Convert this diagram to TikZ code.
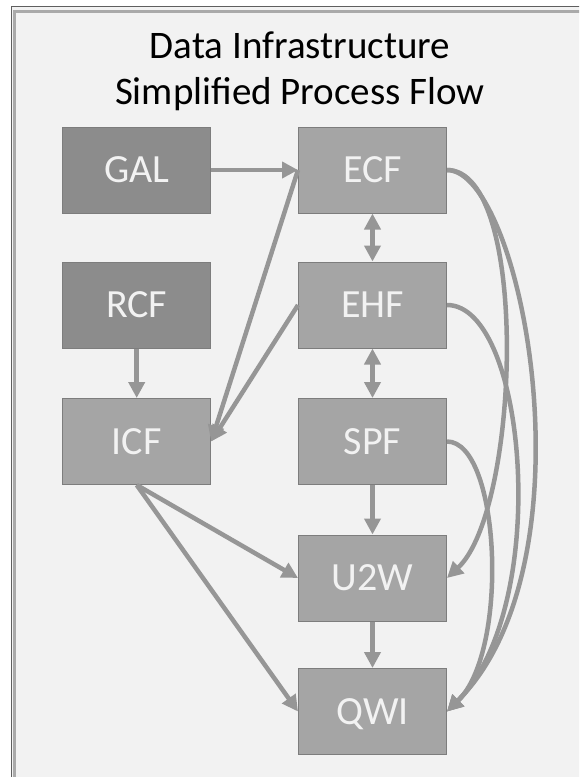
\documentclass[tikz,border=0pt]{standalone}
\usepackage{fontspec}
\setmainfont{Carlito}
\usetikzlibrary{arrows.meta, positioning, calc}
\definecolor{panel}{RGB}{242,242,242}
\definecolor{boxdark}{RGB}{140,140,140}
\definecolor{boxlite}{RGB}{165,165,165}
\definecolor{edge}{RGB}{125,125,125}
\definecolor{link}{RGB}{150,150,150}
\definecolor{rim}{RGB}{95,95,95}
\definecolor{rimlite}{RGB}{170,170,170}

\begin{document}
\begin{tikzpicture}[x=1pt,y=-1pt,
  D/.style={draw=edge,line width=1pt,fill=boxdark,
            minimum width=148pt,minimum height=86pt,inner sep=0pt,
            font=\fontsize{40}{44}\selectfont,text=panel,
            text height=25.3pt,text depth=0pt},
  L/.style={D,fill=boxlite},
  ar/.style={-{Triangle[length=16pt,width=16pt]},link,line width=4.5pt},
  dar/.style={{Triangle[length=16pt,width=16pt]}-{Triangle[length=16pt,width=16pt]},
              link,line width=4.5pt},
  >=Stealth
]

%% col-x:  136.7 | 372.5
%% row-y:  170 | 305 | 441.5 | 578 | 711.5

\useasboundingbox (0,0) rectangle (579,777);
\clip (0,0) rectangle (579,777);

% frame
\fill[white] (0,0) rectangle (579,777);
\fill[panel] (11,6) rectangle (600,800);
\draw[rimlite,line width=3pt] (14,11.5) rectangle (600,800);
\draw[rim,line width=1.2pt] (11.5,6.5) rectangle (600,800);

% title
\node[font=\fontsize{39}{46}\selectfont,align=center,inner sep=0pt,anchor=north]
      (title) at (300,32) {Data Infrastructure\\Simplified Process Flow};

% sources
\node[D] (gal) at (136.7,170)   {GAL};
\node[D] (rcf) at (136.7,305)   {RCF};
\node[L] (icf) at (136.7,441.5) {ICF};

% files
\node[L] (ecf) at (372.5,170)   {ECF};
\node[L] (ehf) at (372.5,305)   {EHF};
\node[L] (spf) at (372.5,441.5) {SPF};
\node[L] (u2w) at (372.5,578)   {U2W};
\node[L] (qwi) at (372.5,711.5) {QWI};

% straight links
\draw[ar]  (gal) -- (ecf);
\draw[ar]  (rcf) -- (icf);
\draw[dar] (ecf) -- (ehf);
\draw[dar] (ehf) -- (spf);
\draw[ar]  (spf) -- (u2w);
\draw[ar]  (u2w) -- (qwi);

% into / out of ICF
\draw[ar] (ecf.west) -- (icf.east);
\draw[ar] (ehf.west) -- (icf.east);
\draw[ar] (icf.south) -- (u2w.west);
\draw[ar] (icf.south) -- (qwi.west);

% curved links on the right
\draw[ar] (ecf.east) .. controls ($(ecf.east)+(83,0)$)
      and ($(u2w.east)+(73,-68)$) .. (u2w.east);
\draw[ar] (ecf.east) .. controls ($(ecf.east)+(75,0)$)
      and ($(qwi.east)+(150,-150)$) .. (qwi.east);
\draw[ar] (ehf.east) .. controls ($(ehf.east)+(80,0)$)
      and ($(qwi.east)+(105,-105)$) .. (qwi.east);
\draw[ar] (spf.east) .. controls ($(spf.east)+(53,0)$)
      and ($(qwi.east)+(63,-61)$) .. (qwi.east);

\end{tikzpicture}
\end{document}
